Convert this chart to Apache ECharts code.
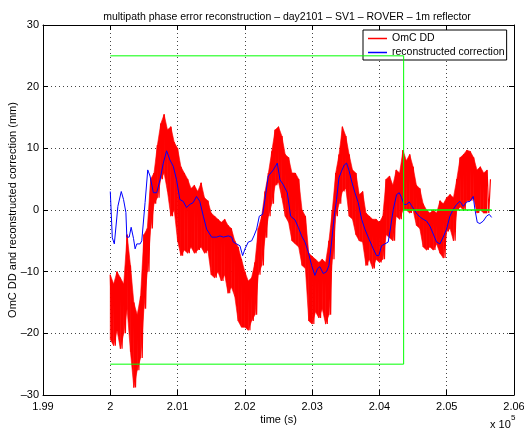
<!DOCTYPE html>
<html>
<head>
<meta charset="utf-8">
<script src="https://cdn.jsdelivr.net/npm/echarts@6/dist/echarts.min.js"></script>
<style>
  html, body { margin: 0; padding: 0; background: #fff; }
  #chart { width: 524px; height: 435px; }
</style>
</head>
<body>
<div id="chart"></div>
<script>
const redStart = 200000
const redStep = 25
const redValues = [
  -10.5, -21, -12, -22, -10, -19.5, -11, -22.5, -12, -20,
  -4, -16, -9, -23, -15, -28.8, -17, -26, -14, -24,
  -4, -16, -3, -10, 5, -3, 6, 1, 10.5, 2,
  14, 5, 15.5, 6, 13, 3, 13.5, -1, 11, 0,
  10, -5, 7, -7.4, 6, -6.5, 5, -7, 3.5, -6,
  4, -7, 3, -6.5, 4.4, -6, 2, -7, 1.5, -6.5,
  -0.5, -10.5, -1, -11, -1.5, -10, -2, -11.5, -1.5, -10.5,
  -2.5, -13.5, -3, -12.5, -5, -14, -6, -18, -8, -19,
  -10, -19, -11.5, -19.5, -11, -18, -8.5, -17, -3, -10.5,
  -1, -9, 3, -4.5, 6, -1, 9.5, 1, 13, 4,
  13.5, 4.5, 12, 2, 9, -1, 8.5, -2, 6, -5,
  6, -5.5, 5, -6, 0, -9, -1, -9.5, -7, -18,
  -7.5, -18.5, -8, -16.5, -8.5, -17.5, -8, -16, -8.5, -18.5,
  -5, -17, 0, -8, 6, -1, 9, 1, 13.5, 3,
  12, 3.5, 9, -1, 6.5, -1.5, 6, -4, 2.5, -5,
  3, -5.2, -0.5, -9, -1, -8, -1.5, -9.5, -1.5, -8,
  -2, -8.5, -1, -8, 5, -4, 5.5, -4.5, 4, -5,
  6.5, -1, 6, -1.5, 9.7, 0, 8, 0, 9, -0.5,
  7, 0, 4, -2.5, 3.5, -3, 1, -6, 0, -6.5,
  -0.5, -6, 0, -6.5, -0.5, -5.5, 1.5, -7, 1, -7.8,
  2, -3.5, 2.5, -3, 2, -5, 5, 0, 8.5, 0.5,
  9, 0, 9.7, 1.5, 9.5, 1.5, 8.5, 2, 6.5, -0.5,
  7, 0, 6, -0.5, 6.5, -0.5, 5
]

// reconstructed correction
const blueTime = [
  200000, 200030, 200060, 200113, 200163, 200197, 200232, 200246, 200281, 200310,
  200345, 200369, 200394, 200443, 200468, 200517, 200557, 200591, 200640, 200690,
  200739, 200788, 200837, 200887, 200936, 200985, 201034, 201084, 201133, 201182,
  201232, 201281, 201330, 201383, 201432, 201506, 201581, 201630, 201680, 201754,
  201804, 201828, 201878, 201927, 201967, 202002, 202051, 202101, 202135, 202175,
  202215, 202264, 202299, 202348, 202423, 202482, 202522, 202571, 202631, 202680,
  202745, 202794, 202843, 202893, 202942, 202992, 203041, 203081, 203115, 203165,
  203214, 203249, 203289, 203328, 203363, 203398, 203437, 203477, 203512, 203546,
  203586, 203636, 203685, 203735, 203784, 203844, 203908, 203957, 203992, 204031,
  204081, 204130, 204156, 204206, 204255, 204295, 204329, 204364, 204404, 204443,
  204478, 204513, 204562, 204612, 204651, 204701, 204750, 204800, 204849, 204899,
  204924, 204948, 204998, 205047, 205097, 205147, 205196, 205246, 205295, 205345,
  205394, 205419, 205454, 205493, 205543, 205592, 205632, 205667
]
const blueValue = [
  3.0, -4.5, -5.5, 0.6, 3.0, 1.7, -0.4, -4.4, -4.4, -2.8,
  -4.6, -6.3, -5.5, -5.5, -5.0, 1.2, 6.5, 5.5, 2.8, 2.8,
  4.9, 7.6, 9.6, 8.1, 7.1, 4.9, 1.7, 1.4, 0.4, 0.9,
  1.2, 2.2, 1.4, -1.0, -3.1, -4.4, -4.4, -4.2, -4.4, -4.2,
  -4.4, -5.2, -5.5, -5.8, -7.4, -6.3, -5.2, -5.0, -4.2, -3.1,
  -1.0, -0.7, 1.7, 5.5, 6.5, 7.6, 4.9, 4.1, 2.8, -1.0,
  -1.6, -2.8, -4.2, -5.2, -6.8, -9.0, -10.6, -9.5, -9.2, -10.3,
  -10.0, -9.0, -5.2, -1.0, 1.7, 5.2, 6.3, 7.3, 7.6, 6.5,
  4.7, 2.8, 1.2, -1.5, -3.1, -4.7, -6.3, -7.4, -7.4, -5.8,
  -5.5, -5.2, -3.5, 0.1, 2.5, 2.8, 2.0, 0.9, 0.9, 1.3,
  0.7, 0.1, -0.7, -1.2, -1.5, -1.8, -2.6, -3.9, -5.2, -5.5,
  -5.2, -4.4, -3.1, -1.0, 0.1, 0.9, 1.4, 0.6, 1.3, 1.4,
  2.2, 0.1, -2.0, -2.2, -1.8, -1.0, -0.7, -1.2
]

// green flag lines
const flagTime = [200000, 204360, 204360, 205667]
const flagUpper = [25, 25, 0, 0]
const flagLower = [-25, -25, 0, 0]

const xTicks = [1.99, 2, 2.01, 2.02, 2.03, 2.04, 2.05, 2.06]
const yTicks = [-30, -20, -10, 0, 10, 20, 30]

const font = 'Liberation Sans, Arial, Helvetica, sans-serif'

const redData = redValues.map((v, i) => [redStart + i * redStep, v])
const blueData = blueTime.map((t, i) => [t, blueValue[i]])
const upperData = flagTime.map((t, i) => [t, flagUpper[i]])
const lowerData = flagTime.map((t, i) => [t, flagLower[i]])

// the raw trace is so dense it reads as a filled band:
// shade from one high/low pair to the next one
let pairs = []
for (let i = 0; i + 1 < redValues.length; i += 2) {
  let a = redValues[i], b = redValues[i + 1]
  pairs.push([redStart + i * redStep, Math.min(a, b), Math.max(a, b)])
}
let bandData = []
for (let k = 0; k + 1 < pairs.length; k++) {
  bandData.push(pairs[k].concat(pairs[k + 1]))
}

function renderBand(params, api) {
  let a = api.coord([api.value(0), api.value(2)])
  let b = api.coord([api.value(3), api.value(5)])
  let c = api.coord([api.value(3), api.value(4)])
  let d = api.coord([api.value(0), api.value(1)])
  return {
    type: 'polygon',
    shape: { points: [a, b, c, d] },
    style: { fill: '#ff0000', stroke: '#ff0000', lineWidth: 0.6 }
  }
}

const dotted = { show: true, lineStyle: { color: '#444', width: 1, type: [1, 3] } }
const blackLine = { show: true, onZero: false, lineStyle: { color: '#000', width: 1 } }
const tick = { show: true, inside: true, length: 5, lineStyle: { color: '#000' } }

let mychart = echarts.init(document.getElementById('chart'))
mychart.setOption({
  animation: false,
  backgroundColor: '#fff',
  title: {
    text: 'multipath phase error reconstruction \u2013 day2101 \u2013 SV1 \u2013 ROVER \u2013 1m reflector',
    left: 282,
    top: 7,
    textAlign: 'center',
    textStyle: { fontFamily: font, fontSize: 10.5, fontWeight: 'normal', color: '#000' }
  },
  grid: { left: 43, right: 10, top: 25, bottom: 40, outerBoundsMode: 'none' },
  legend: {
    orient: 'vertical',
    left: 363,
    top: 30,
    padding: [3, 2, 2, 5],
    itemGap: 3,
    itemWidth: 19,
    itemHeight: 1.5,
    icon: 'rect',
    backgroundColor: '#fff',
    borderColor: '#000',
    borderWidth: 1,
    borderRadius: 0,
    textStyle: { fontFamily: font, fontSize: 10.5, color: '#000', lineHeight: 11 },
    data: ['OmC DD', 'reconstructed correction']
  },
  xAxis: [
    {
      type: 'value',
      min: 199000,
      max: 206000,
      interval: 1000,
      position: 'bottom',
      name: 'time (s)',
      nameLocation: 'middle',
      nameGap: 19,
      nameMoveOverlap: false,
      nameTextStyle: { fontFamily: font, fontSize: 11, color: '#000' },
      axisLine: blackLine,
      axisTick: tick,
      axisLabel: {
        fontFamily: font, fontSize: 11, color: '#000', margin: 6,
        showMaxLabel: true,
        formatter: v => String(xTicks[Math.round((v - 199000) / 1000)])
      },
      splitLine: dotted
    },
    {
      type: 'value',
      min: 199000,
      max: 206000,
      interval: 1000,
      position: 'top',
      axisLine: blackLine,
      axisTick: tick,
      axisLabel: { show: false },
      splitLine: { show: false }
    }
  ],
  yAxis: [
    {
      type: 'value',
      min: -30,
      max: 30,
      interval: 10,
      position: 'left',
      name: 'OmC DD and reconstructed correction (mm)',
      nameLocation: 'middle',
      nameGap: 25,
      nameMoveOverlap: false,
      nameTextStyle: { fontFamily: font, fontSize: 11, color: '#000' },
      axisLine: blackLine,
      axisTick: tick,
      axisLabel: {
        fontFamily: font, fontSize: 11, color: '#000', margin: 4,
        formatter: v => {
          let t = yTicks[Math.round((v + 30) / 10)]
          return t < 0 ? '\u2013' + (-t) : String(t)
        }
      },
      splitLine: dotted
    },
    {
      type: 'value',
      min: -30,
      max: 30,
      interval: 10,
      position: 'right',
      axisLine: blackLine,
      axisTick: tick,
      axisLabel: { show: false },
      splitLine: { show: false }
    }
  ],
  series: [
    {
      name: 'band',
      type: 'custom',
      renderItem: renderBand,
      data: bandData,
      encode: { x: [0, 3], y: [1, 2, 4, 5] },
      silent: true,
      z: 1
    },
    {
      name: 'OmC DD',
      type: 'line',
      data: redData,
      showSymbol: false,
      symbol: 'none',
      color: '#ff0000',
      lineStyle: { color: '#ff0000', width: 1.2 },
      z: 2
    },
    {
      name: 'reconstructed correction',
      type: 'line',
      data: blueData,
      showSymbol: false,
      symbol: 'none',
      color: '#0000ff',
      lineStyle: { color: '#0000ff', width: 1 },
      z: 3
    },
    {
      name: 'flag upper',
      type: 'line',
      data: upperData,
      showSymbol: false,
      symbol: 'none',
      lineStyle: { color: '#00ff00', width: 1 },
      z: 4
    },
    {
      name: 'flag lower',
      type: 'line',
      data: lowerData,
      showSymbol: false,
      symbol: 'none',
      lineStyle: { color: '#00ff00', width: 1 },
      z: 4
    }
  ],
  graphic: [
    {
      type: 'text', x: 490, y: 419,
      style: { text: 'x 10', fontFamily: font, fontSize: 11, fill: '#000' }
    },
    {
      type: 'text', x: 511, y: 414,
      style: { text: '5', fontFamily: font, fontSize: 8, fill: '#000' }
    }
  ]
})
</script>
</body>
</html>
